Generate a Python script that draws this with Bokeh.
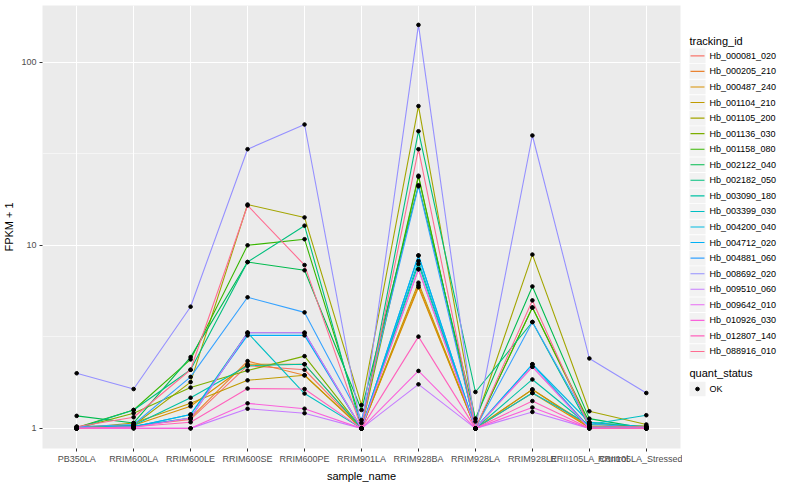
from bokeh.plotting import figure
from bokeh.layouts import row
from bokeh.models import FactorRange, Range1d, FixedTicker, NumeralTickFormatter
from bokeh.embed import file_html
from bokeh.resources import INLINE
from bokeh.core.properties import value

# ---------------- data ----------------
sample_names = ["PB350LA", "RRIM600LA", "RRIM600LE", "RRIM600SE", "RRIM600PE",
                "RRIM901LA", "RRIM928BA", "RRIM928LA", "RRIM928LE",
                "RRII105LA_Control", "RRII105LA_Stressed"]

tracking_ids = ["Hb_000081_020", "Hb_000205_210", "Hb_000487_240", "Hb_001104_210",
                "Hb_001105_200", "Hb_001136_030", "Hb_001158_080", "Hb_002122_040",
                "Hb_002182_050", "Hb_003090_180", "Hb_003399_030", "Hb_004200_040",
                "Hb_004712_020", "Hb_004881_060", "Hb_008692_020", "Hb_009510_060",
                "Hb_009642_010", "Hb_010926_030", "Hb_012807_140", "Hb_088916_010"]

quant_status = ["OK"]

# FPKM + 1 per sample (order of sample_names)
hb_000081_020 = [1.01, 1.03, 1.12, 2.20, 2.09, 1.00, 7.4, 1.00, 2.17, 1.02, 1.01]
hb_000205_210 = [1.00, 1.02, 1.14, 2.33, 1.95, 1.00, 6.05, 1.00, 1.63, 1.01, 1.00]
hb_000487_240 = [1.02, 1.04, 1.32, 2.24, 2.24, 1.00, 5.9, 1.00, 1.56, 1.01, 1.00]
hb_001104_210 = [1.00, 1.07, 1.37, 1.83, 1.95, 1.00, 6.25, 1.00, 1.63, 1.03, 1.02]
hb_001105_200 = [1.00, 1.04, 1.79, 16.7, 14.2, 1.34, 57.6, 1.09, 8.9, 1.24, 1.05]
hb_001136_030 = [1.00, 1.21, 1.67, 2.07, 2.48, 1.00, 23.7, 1.00, 4.57, 1.05, 1.03]
hb_001158_080 = [1.01, 1.26, 2.38, 10.0, 10.8, 1.07, 24.0, 1.00, 4.57, 1.08, 1.01]
hb_002122_040 = [1.17, 1.07, 2.45, 8.1, 7.3, 1.26, 21.3, 1.13, 5.96, 1.13, 1.00]
hb_002182_050 = [1.00, 1.26, 2.09, 8.1, 12.8, 1.00, 42.0, 1.58, 3.81, 1.02, 1.02]
hb_003090_180 = [1.00, 1.04, 1.47, 2.20, 2.24, 1.00, 7.9, 1.00, 1.85, 1.03, 1.00]
hb_003399_030 = [1.00, 1.02, 1.19, 3.33, 1.55, 1.00, 8.2, 1.00, 1.56, 1.05, 1.18]
hb_004200_040 = [1.00, 1.03, 1.14, 3.33, 3.33, 1.00, 8.8, 1.00, 2.24, 1.08, 1.02]
hb_004712_020 = [1.00, 1.02, 1.19, 3.22, 3.22, 1.00, 8.8, 1.00, 2.24, 1.01, 1.01]
hb_004881_060 = [1.02, 1.05, 1.91, 5.2, 4.3, 1.11, 21.0, 1.00, 3.81, 1.06, 1.00]
hb_008692_020 = [2.00, 1.64, 4.62, 33.5, 45.7, 1.00, 160.0, 1.00, 39.8, 2.41, 1.56]
hb_009510_060 = [1.00, 1.00, 1.00, 1.28, 1.21, 1.00, 1.74, 1.00, 1.23, 1.00, 1.00]
hb_009642_010 = [1.00, 1.01, 1.14, 3.33, 3.33, 1.00, 7.4, 1.00, 2.17, 1.00, 1.00]
hb_010926_030 = [1.00, 1.00, 1.00, 1.37, 1.28, 1.00, 2.06, 1.00, 1.30, 1.00, 1.00]
hb_012807_140 = [1.00, 1.02, 1.08, 1.65, 1.64, 1.00, 3.17, 1.00, 1.41, 1.00, 1.00]
hb_088916_010 = [1.02, 1.15, 2.09, 16.5, 7.8, 1.00, 33.5, 1.00, 5.0, 1.02, 1.02]

series_values = [hb_000081_020, hb_000205_210, hb_000487_240, hb_001104_210,
                 hb_001105_200, hb_001136_030, hb_001158_080, hb_002122_040,
                 hb_002182_050, hb_003090_180, hb_003399_030, hb_004200_040,
                 hb_004712_020, hb_004881_060, hb_008692_020, hb_009510_060,
                 hb_009642_010, hb_010926_030, hb_012807_140, hb_088916_010]

y_ticks = [1, 10, 100]

# ---------------- styles ----------------
palette = ["#F8766D", "#EA8331", "#D89000", "#C09B00", "#A3A500", "#7CAE00",
           "#39B600", "#00BB4E", "#00BF7D", "#00C1A3", "#00BFC4", "#00BAE0",
           "#00B0F6", "#35A2FF", "#9590FF", "#C77CFF", "#E76BF3", "#FA62DB",
           "#FF62BC", "#FF6C91"]
FONT = "Liberation Sans"
H = 484

# ---------------- main plot ----------------
p = figure(width=682, height=H,
           x_range=FactorRange(factors=sample_names, range_padding=0.1,
                               range_padding_units="absolute"),
           y_axis_type="log", y_range=Range1d(10 ** -0.11, 10 ** 2.31),
           output_backend="svg", toolbar_location=None,
           min_border_left=36, min_border_right=2, min_border_top=5,
           min_border_bottom=34)
p.background_fill_color = "#EBEBEB"
p.border_fill_color = "white"
p.outline_line_color = None

p.yaxis.ticker = FixedTicker(ticks=y_ticks, minor_ticks=[3.1623, 31.623])
p.yaxis.formatter = NumeralTickFormatter(format="0")

p.xgrid.grid_line_color = "white"
p.xgrid.grid_line_width = 1.1
p.ygrid.grid_line_color = "white"
p.ygrid.grid_line_width = 1.1
p.ygrid.minor_grid_line_color = "white"
p.ygrid.minor_grid_line_width = 0.5

for ax in (p.xaxis, p.yaxis):
    ax.axis_line_color = None
    ax.major_tick_line_color = "#333333"
    ax.major_tick_out = 3
    ax.major_tick_in = 0
    ax.minor_tick_line_color = None
    ax.major_label_text_font = FONT
    ax.major_label_text_font_size = "9px"
    ax.major_label_text_color = "#4D4D4D"
    ax.major_label_standoff = 2
    ax.axis_label_text_font = FONT
    ax.axis_label_text_font_size = "11px"
    ax.axis_label_text_font_style = "normal"
    ax.axis_label_text_color = "black"
    ax.axis_label_standoff = 3
p.xaxis.axis_label = "sample_name"
p.yaxis.axis_label = "FPKM + 1"

xs_all, ys_all = [], []
for vals, col in zip(series_values, palette):
    p.line(x=sample_names, y=vals, line_color=col, line_width=1.1)
    xs_all += sample_names
    ys_all += vals
p.scatter(x=xs_all, y=ys_all, size=3.6, marker="circle",
          fill_color="black", line_color="black")

# ---------------- legend panel ----------------
lg = figure(width=102, height=H, x_range=Range1d(0, 102), y_range=Range1d(H, 0),
            output_backend="svg", toolbar_location=None,
            x_axis_location=None, y_axis_location=None, min_border=0)
lg.grid.visible = False
lg.outline_line_color = None
lg.background_fill_color = "white"
lg.border_fill_color = "white"

top = 55.0
step = 17.0
item_y = [top + step * i for i in range(len(tracking_ids))]
lg.text(x=[7], y=[top - 16], text=["tracking_id"], text_font=value(FONT),
        text_font_size="11px", text_baseline="middle", text_color="black")
lg.rect(x=15, y=item_y, width=16, height=16, fill_color="#F2F2F2", line_color=None)
lg.segment(x0=8, x1=22, y0=item_y, y1=item_y, line_color=palette, line_width=1.1)
lg.text(x=27, y=item_y, text=tracking_ids, text_font=value(FONT),
        text_font_size="9px", text_baseline="middle", text_color="black")

qs_title_y = item_y[-1] + 24
qs_y = [qs_title_y + 17 + 17 * i for i in range(len(quant_status))]
lg.text(x=[7], y=[qs_title_y], text=["quant_status"], text_font=value(FONT),
        text_font_size="11px", text_baseline="middle", text_color="black")
lg.rect(x=15, y=qs_y, width=16, height=16, fill_color="#F2F2F2", line_color=None)
lg.scatter(x=[15] * len(qs_y), y=qs_y, size=3.6, marker="circle",
           fill_color="black", line_color="black")
lg.text(x=27, y=qs_y, text=quant_status, text_font=value(FONT),
        text_font_size="9px", text_baseline="middle", text_color="black")

layout = row(p, lg)
open("out.html", "w").write(file_html(layout, INLINE))
